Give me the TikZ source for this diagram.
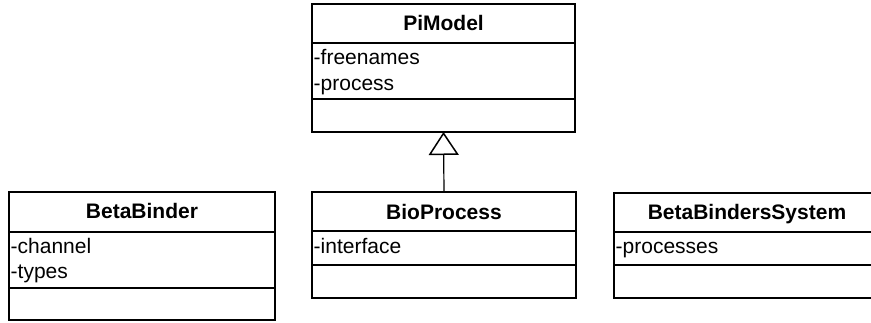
\documentclass[tikz,border=0pt]{standalone}
\usepackage{fontspec}
\setmainfont{Liberation Sans}
\usetikzlibrary{arrows.meta}
\tikzset{
  comp/.style={draw=black, line width=1.5pt, fill=white, inner sep=0pt, outer sep=0pt, anchor=north west},
  ttl/.style={font=\fontsize{21}{25}\selectfont\bfseries, anchor=base, inner sep=0pt},
  attr/.style={font=\fontsize{21}{25}\selectfont, anchor=base west, inner sep=0pt},
  inherit/.style={line width=1.2pt, -{Triangle[open, length=23pt, width=30pt, line width=1.5pt]}}
}
\begin{document}
\begin{tikzpicture}[x=1pt, y=-1pt]
\useasboundingbox (0,0) rectangle (871,322);
\clip (0,0) rectangle (871,322);
% PiModel
\node[comp, minimum width=263pt, minimum height=39pt] (pih) at (312,4) {};
\node[comp, minimum width=263pt, minimum height=56pt] (pia) at (312,43) {};
\node[comp, minimum width=263pt, minimum height=33pt] (pim) at (312,99) {};
\node[ttl] (pit) at (443.5,30) {PiModel};
\node[attr] (pia1) at (313.5,64) {-freenames};
\node[attr] (pia2) at (313.5,90) {-process};
% BetaBinder
\node[comp, minimum width=266pt, minimum height=40pt] (bbh) at (9,192) {};
\node[comp, minimum width=266pt, minimum height=56pt] (bba) at (9,232) {};
\node[comp, minimum width=266pt, minimum height=32pt] (bbm) at (9,288) {};
\node[ttl] (bbt) at (142,218) {BetaBinder};
\node[attr] (bba1) at (10.5,253) {-channel};
\node[attr] (bba2) at (10.5,278) {-types};
% BioProcess
\node[comp, minimum width=264pt, minimum height=39pt] (bph) at (312,192) {};
\node[comp, minimum width=264pt, minimum height=34pt] (bpa) at (312,231) {};
\node[comp, minimum width=264pt, minimum height=33pt] (bpm) at (312,265) {};
\node[ttl] (bpt) at (444,219) {BioProcess};
\node[attr] (bpa1) at (313.5,253) {-interface};
% BetaBindersSystem
\node[comp, minimum width=266pt, minimum height=39pt] (bsh) at (614,193) {};
\node[comp, minimum width=266pt, minimum height=33pt] (bsa) at (614,232) {};
\node[comp, minimum width=266pt, minimum height=33pt] (bsm) at (614,265) {};
\node[ttl] (bst) at (747,219) {BetaBindersSystem};
\node[attr] (bsa1) at (615.5,253) {-processes};
% inheritance
\draw[inherit] (bph.north) -- (pim.south);
\end{tikzpicture}
\end{document}
